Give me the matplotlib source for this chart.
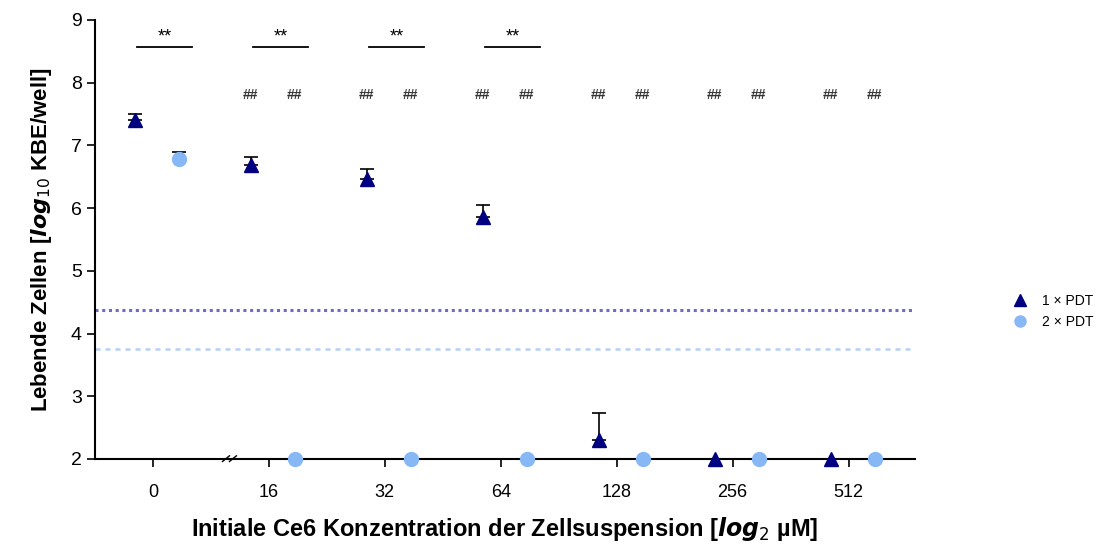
import matplotlib.pyplot as plt
import numpy as np

plt.rcParams['font.family'] = ['Liberation Sans', 'DejaVu Sans']

groups = ['0', '16', '32', '64', '128', '256', '512']
pdt1 = [7.40, 6.68, 6.47, 5.86, 2.30, 2.00, 2.00]   # 1x PDT Mittelwerte
pdt1_err = [0.10, 0.13, 0.16, 0.19, 0.43, 0.0, 0.0]
pdt2 = [6.78, 2.00, 2.00, 2.00, 2.00, 2.00, 2.00]   # 2x PDT Mittelwerte
pdt2_err = [0.12, 0.0, 0.0, 0.0, 0.0, 0.0, 0.0]
limit1 = 4.37  # Nachweisgrenze 1x PDT
limit2 = 3.75  # Nachweisgrenze 2x PDT
stars_groups = [0, 1, 2, 3]
hash_groups = [1, 2, 3, 4, 5, 6]

dark = '#000080'
light = '#87b8f5'
x = np.arange(len(groups))
off1, off2 = -0.155, 0.225

fig = plt.figure(figsize=(10.98, 5.49), dpi=100)
ax = fig.add_axes([0.0865, 0.164, 0.7465, 0.7996])

ax.axhline(limit1, color='#6c6cc0', linestyle=(0, (1, 1.2)), linewidth=2.2)
ax.axhline(limit2, color='#b5cff5', linestyle=(0, (2, 2)), linewidth=1.8)

ax.errorbar(x + off1, pdt1, yerr=[np.zeros(7), pdt1_err], fmt='none', ecolor='black',
            elinewidth=1.2, capsize=5, capthick=1.2, zorder=3)
ax.errorbar(x + off2, pdt2, yerr=[np.zeros(7), pdt2_err], fmt='none', ecolor='black',
            elinewidth=1.2, capsize=5, capthick=1.2, zorder=3)
ax.plot(x + off1, pdt1, '^', color=dark, markersize=10, linestyle='none',
        clip_on=False, zorder=4, label='1 × PDT')
ax.plot(x + off2, pdt2, 'o', color=light, markersize=10, linestyle='none',
        clip_on=False, zorder=4, label='2 × PDT')

for g in stars_groups:
    ax.plot([g - 0.14, g + 0.34], [8.57, 8.57], color='black', linewidth=1.3)
    ax.text(g + 0.1, 8.6, '**', ha='center', va='bottom', fontsize=13)
for g in hash_groups:
    for o in (off1, off2):
        ax.text(g + o, 7.81, '##', ha='center', va='center', fontsize=10,
                fontweight='bold', color='#333333')

ax.set_xlim(-0.5, 6.57)
ax.set_ylim(2, 9)
ax.set_xticks(x)
ax.set_xticklabels(groups, fontsize=13)
ax.set_yticks(range(2, 10))
ax.tick_params(axis='y', labelsize=14, length=6, width=1.2, direction='out')
ax.tick_params(axis='x', length=6, width=1.2, direction='out', pad=12)
for s in ['top', 'right']:
    ax.spines[s].set_visible(False)
ax.spines['left'].set_linewidth(1.5)
ax.spines['bottom'].set_linewidth(1.5)

# Achsenbruch
for dx in (0.0, 0.06):
    ax.plot([0.6 + dx, 0.66 + dx], [1.96, 2.05], color='black', linewidth=1, clip_on=False)

ax.set_ylabel(r'Lebende Zellen [$\mathbfit{log}_{10}$ KBE/well]', fontsize=16,
              fontweight='bold', labelpad=12)
ax.set_xlabel(r'Initiale Ce6 Konzentration der Zellsuspension [$\mathbfit{log}_{2}$ µM]',
              fontsize=17, fontweight='bold', labelpad=10)

fig.legend(loc='upper left', bbox_to_anchor=(0.905, 0.487), frameon=False, fontsize=10,
           handletextpad=0.6, labelspacing=0.5, markerscale=0.8)

fig.savefig('out.png', dpi=100)
